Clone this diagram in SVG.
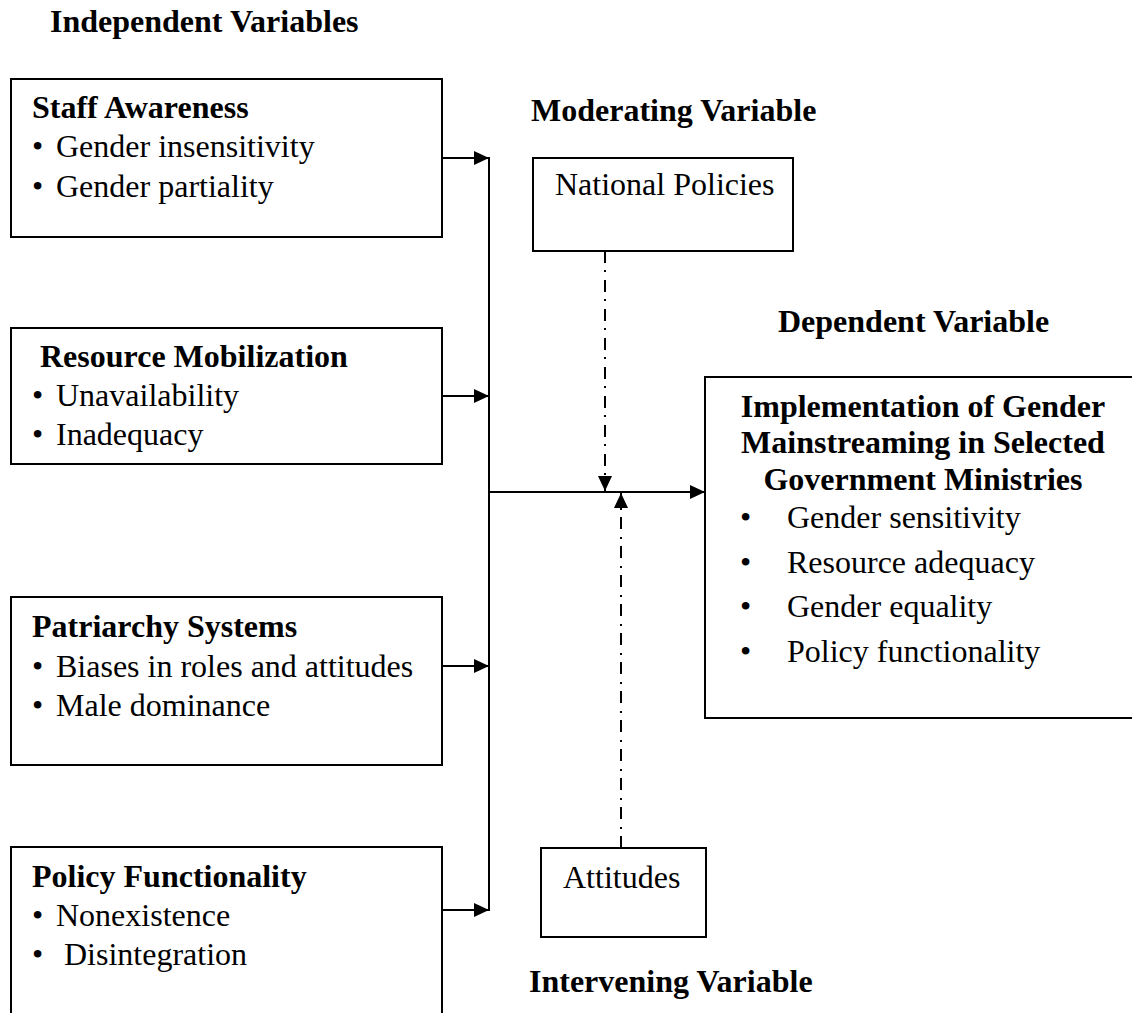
<svg xmlns="http://www.w3.org/2000/svg" width="1132" height="1013" viewBox="0 0 1132 1013">
<style>
  text { font-family: "Liberation Serif", "Times New Roman", serif; font-size: 32px; fill: #000; }
  .b { font-weight: bold; }
  .box { fill: #fff; stroke: #000; stroke-width: 2; }
  .line { fill: none; stroke: #000; stroke-width: 2; }
  .dash { fill: none; stroke: #000; stroke-width: 2; stroke-dasharray: 12 7 2 8; }
</style>
<defs>
  <marker id="ah" viewBox="0 0 15 14" refX="15" refY="7" markerWidth="15" markerHeight="14" markerUnits="userSpaceOnUse" orient="auto">
    <path d="M0,0 L15,7 L0,14 z" fill="#000"/>
  </marker>
</defs>
<rect width="1132" height="1013" fill="#fff"/>

<g id="labels">
  <text class="b" x="50" y="32">Independent Variables</text>
  <text class="b" x="531" y="121">Moderating Variable</text>
  <text class="b" x="778" y="332">Dependent Variable</text>
  <text class="b" x="529" y="992">Intervening Variable</text>
</g>

<g id="staff-awareness">
  <rect class="box" x="11" y="79" width="431" height="158"/>
  <text class="b" x="32" y="118">Staff Awareness</text>
  <text x="32" y="157">•</text><text x="56" y="157">Gender insensitivity</text>
  <text x="32" y="197">•</text><text x="56" y="197">Gender partiality</text>
</g>

<g id="resource-mobilization">
  <rect class="box" x="11" y="328" width="431" height="136"/>
  <text class="b" x="40" y="367">Resource Mobilization</text>
  <text x="32" y="406">•</text><text x="56" y="406">Unavailability</text>
  <text x="32" y="445">•</text><text x="56" y="445">Inadequacy</text>
</g>

<g id="patriarchy-systems">
  <rect class="box" x="11" y="597" width="431" height="168"/>
  <text class="b" x="32" y="637">Patriarchy Systems</text>
  <text x="32" y="677">•</text><text x="56" y="677">Biases in roles and attitudes</text>
  <text x="32" y="716">•</text><text x="56" y="716">Male dominance</text>
</g>

<g id="policy-functionality">
  <rect class="box" x="11" y="847" width="431" height="180"/>
  <text class="b" x="32" y="887">Policy Functionality</text>
  <text x="32" y="926">•</text><text x="56" y="926">Nonexistence</text>
  <text x="32" y="965">•</text><text x="64" y="965">Disintegration</text>
</g>

<g id="national-policies">
  <rect class="box" x="533" y="158" width="260" height="93"/>
  <text x="555" y="195">National Policies</text>
</g>

<g id="attitudes">
  <rect class="box" x="541" y="848" width="165" height="89"/>
  <text x="563" y="888">Attitudes</text>
</g>

<g id="implementation">
  <rect class="box" x="705" y="377" width="440" height="341"/>
  <text class="b" x="923" y="417" text-anchor="middle">Implementation of Gender</text>
  <text class="b" x="923" y="453" text-anchor="middle">Mainstreaming in Selected</text>
  <text class="b" x="923" y="490" text-anchor="middle">Government Ministries</text>
  <text x="740" y="528">•</text><text x="787" y="528">Gender sensitivity</text>
  <text x="740" y="573">•</text><text x="787" y="573">Resource adequacy</text>
  <text x="740" y="617">•</text><text x="787" y="617">Gender equality</text>
  <text x="740" y="662">•</text><text x="787" y="662">Policy functionality</text>
</g>

<g id="connectors">
  <line class="line" x1="442" y1="158" x2="489" y2="158" marker-end="url(#ah)"/>
  <line class="line" x1="442" y1="396" x2="489" y2="396" marker-end="url(#ah)"/>
  <line class="line" x1="442" y1="666" x2="489" y2="666" marker-end="url(#ah)"/>
  <line class="line" x1="442" y1="910" x2="489" y2="910" marker-end="url(#ah)"/>
  <line class="line" x1="489" y1="157" x2="489" y2="911"/>
  <line class="line" x1="489" y1="492" x2="705" y2="492" marker-end="url(#ah)"/>
  <line class="dash" x1="605" y1="251" x2="605" y2="491" marker-end="url(#ah)"/>
  <line class="dash" x1="621" y1="848" x2="621" y2="493" marker-end="url(#ah)"/>
</g>
</svg>
